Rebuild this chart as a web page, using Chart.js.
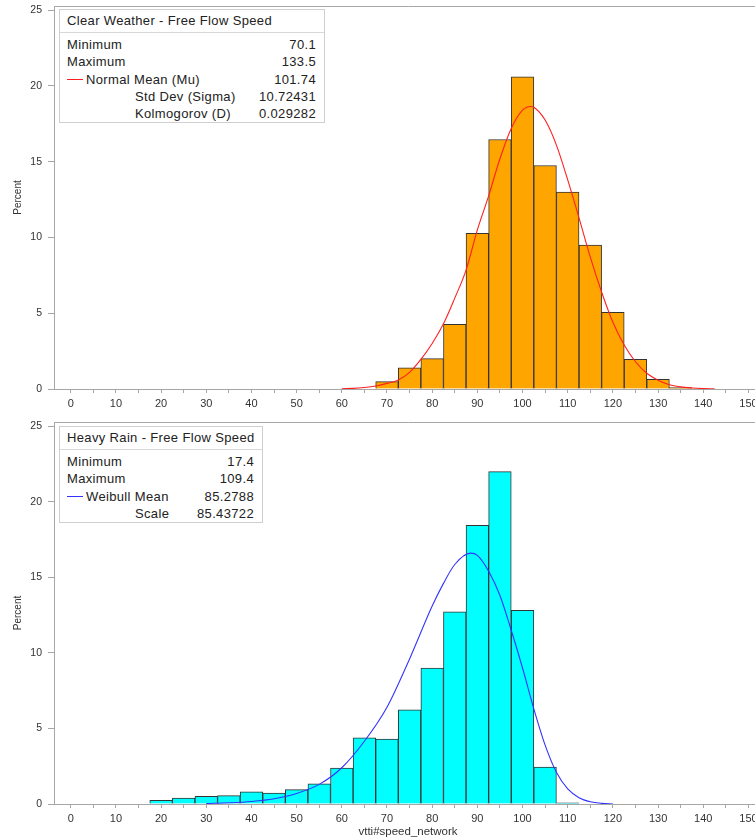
<!DOCTYPE html>
<html>
<head>
<meta charset="utf-8">
<script src="https://cdn.jsdelivr.net/npm/chart.js@4.4.0/dist/chart.umd.min.js"></script>
<style>
  body { margin: 0; background: #fff; overflow: hidden; }
  #wrap { position: relative; width: 755px; height: 839px; overflow: hidden; }
  canvas { position: absolute; left: 0; }
  #clearChart { top: 0; }
  #rainChart { top: 415px; }
  .stats {
    position: absolute; background: #fff; border: 1px solid #cfcfcf;
    font-family: "Liberation Sans", Arial, sans-serif; font-size: 13px;
    letter-spacing: 0.35px; color: #222;
  }
  .stats .hd { height: 22px; line-height: 22px; padding-left: 7px; border-bottom: 1px solid #d8d8d8; white-space: nowrap; }
  .stats .rows { padding-top: 3px; }
  .stats .row { position: relative; height: 17.3px; line-height: 17.3px; white-space: nowrap; }
  .row .lab { position: absolute; left: 7px; }
  .row .lab.after { left: 26px; }
  .row .lab.sub { left: 75px; }
  .row .val { position: absolute; right: 8px; }
  .row .sym { position: absolute; left: 7px; top: 8px; width: 16px; border-top: 1px solid; }
  #clearStats { left: 59px; top: 9px; width: 264px; }
  #rainStats { left: 59px; top: 426px; width: 202px; }
</style>
</head>
<body>
<div id="wrap">
  <canvas id="clearChart" width="775" height="415"></canvas>
  <canvas id="rainChart" width="775" height="424"></canvas>

  <div class="stats" id="clearStats">
    <div class="hd">Clear Weather - Free Flow Speed</div>
    <div class="rows">
      <div class="row"><span class="lab">Minimum</span><span class="val">70.1</span></div>
      <div class="row"><span class="lab">Maximum</span><span class="val">133.5</span></div>
      <div class="row"><span class="sym" style="border-color:#ff2020"></span><span class="lab after">Normal Mean (Mu)</span><span class="val">101.74</span></div>
      <div class="row"><span class="lab sub">Std Dev (Sigma)</span><span class="val">10.72431</span></div>
      <div class="row"><span class="lab sub">Kolmogorov (D)</span><span class="val">0.029282</span></div>
    </div>
  </div>

  <div class="stats" id="rainStats">
    <div class="hd">Heavy Rain - Free Flow Speed</div>
    <div class="rows">
      <div class="row"><span class="lab">Minimum</span><span class="val">17.4</span></div>
      <div class="row"><span class="lab">Maximum</span><span class="val">109.4</span></div>
      <div class="row"><span class="sym" style="border-color:#3333ff"></span><span class="lab after">Weibull Mean</span><span class="val">85.2788</span></div>
      <div class="row"><span class="lab sub">Scale</span><span class="val">85.43722</span></div>
    </div>
  </div>
</div>

<script>
// Clear weather histogram (bin centres, percent)
const clearBins = [70, 75, 80, 85, 90, 95, 100, 105, 110, 115, 120, 125, 130, 135];
const clearPct = [0.49, 1.4, 2.01, 4.27, 10.27, 16.47, 20.6, 14.75, 13.0, 9.5, 5.06, 1.96, 0.64, 0.09];

// Fitted normal curve
const clearCurveX = [60, 62.5, 65, 67.5, 70, 72.5, 75, 77.5, 80, 82.5, 85, 87.5, 90, 92.5, 95, 97.5, 100, 101.75, 102.5, 105, 107.5, 110, 112.5, 115, 117.5, 120, 122.5, 125, 127.5, 130, 132.5, 135, 137.5, 140, 142.5];
const clearCurveY = [0.02, 0.04, 0.1, 0.2, 0.37, 0.6, 1.1, 1.95, 3.0, 4.3, 6.0, 7.85, 10.5, 12.75, 15.2, 17.2, 18.4, 18.65, 18.6, 17.75, 16.1, 13.8, 11.3, 8.7, 6.4, 4.4, 2.9, 1.8, 1.04, 0.58, 0.28, 0.14, 0.07, 0.03, 0.01];

// Heavy rain histogram
const rainBins = [20, 25, 30, 35, 40, 45, 50, 55, 60, 65, 70, 75, 80, 85, 90, 95, 100, 105, 110];
const rainPct = [0.24, 0.4, 0.5, 0.55, 0.81, 0.73, 0.95, 1.34, 2.38, 4.38, 4.29, 6.23, 8.99, 12.72, 18.44, 22.0, 12.82, 2.44, 0.07];

// Fitted Weibull curve
const rainCurveX = [30, 35, 40, 45, 50, 55, 60, 65, 70, 75, 80, 82.5, 85, 88.5, 90, 92.5, 95, 97.5, 100, 102.5, 105, 107.5, 110, 112.5, 115, 117.5, 120];
const rainCurveY = [0.03, 0.08, 0.17, 0.35, 0.7, 1.3, 2.4, 4.15, 6.4, 9.6, 13.1, 14.6, 15.85, 16.6, 16.45, 15.4, 13.8, 11.5, 9.0, 6.3, 3.9, 2.1, 1.0, 0.42, 0.15, 0.04, 0.0];

const xTicks = { min: -3.7, max: 153, step: 5 };
const yTicks = { min: 0, max: 25.28, step: 5 };

const axisGray = '#a6a6a6';
const textGray = '#333';
const fontFamily = '"Liberation Sans", Arial, sans-serif';

function makeChart(id, bins, pct, curveX, curveY, barColor, lineColor, opts) {
  const bars = bins.map((x, i) => ({ x: x, y: pct[i] }));
  const curve = curveX.map((x, i) => ({ x: x, y: curveY[i] }));

  const xTitle = opts.xTitle
    ? { display: true, text: opts.xTitle, color: textGray, font: { size: 11.5, family: fontFamily }, padding: { top: 0, bottom: 0 } }
    : { display: false };

  return new Chart(document.getElementById(id), {
    type: 'bar',
    data: {
      datasets: [
        {
          type: 'line',
          data: curve,
          borderColor: lineColor,
          borderWidth: 1.1,
          pointRadius: 0,
          cubicInterpolationMode: 'monotone',
          order: 0
        },
        {
          type: 'bar',
          data: bars,
          backgroundColor: barColor,
          borderColor: '#333',
          borderWidth: 1,
          categoryPercentage: 1,
          barPercentage: 1,
          order: 1
        }
      ]
    },
    options: {
      responsive: false,
      animation: false,
      devicePixelRatio: 1,
      layout: { padding: { top: opts.padTop, right: 13, left: 0, bottom: 0 } },
      plugins: { legend: { display: false }, tooltip: { enabled: false } },
      scales: {
        x: {
          type: 'linear',
          min: xTicks.min,
          max: xTicks.max,
          offset: false,
          ticks: {
            stepSize: xTicks.step,
            includeBounds: false,
            autoSkip: false,
            maxRotation: 0,
            padding: 4,
            color: textGray,
            font: { size: 11, family: fontFamily },
            callback: v => (v % 10 === 0 ? v : '')
          },
          grid: { drawOnChartArea: false, tickLength: 4, color: axisGray, offset: false },
          border: { color: axisGray },
          title: xTitle,
          afterFit(s) { s.height = opts.xHeight; s.paddingLeft = 0; s.paddingRight = 0; }
        },
        x2: {
          type: 'linear',
          position: 'top',
          min: xTicks.min,
          max: xTicks.max,
          ticks: { display: false },
          grid: { drawOnChartArea: false, drawTicks: false },
          border: { color: axisGray },
          afterFit(s) { s.height = 0; s.paddingLeft = 0; s.paddingRight = 0; }
        },
        y: {
          min: yTicks.min,
          max: yTicks.max,
          ticks: {
            stepSize: yTicks.step,
            includeBounds: false,
            padding: 6,
            color: textGray,
            font: { size: 10.5, family: fontFamily }
          },
          grid: { drawOnChartArea: false, tickLength: 6, color: axisGray },
          border: { color: axisGray },
          title: {
            display: true, text: 'Percent', color: textGray,
            font: { size: 10, family: fontFamily }, padding: { top: 12, bottom: 0 }
          },
          afterFit(s) { s.width = 54; s.paddingTop = 0; s.paddingBottom = 0; }
        }
      }
    }
  });
}

makeChart('clearChart', clearBins, clearPct, clearCurveX, clearCurveY, '#ffa500', '#ff2020',
  { padTop: 6, xHeight: 26 });
makeChart('rainChart', rainBins, rainPct, rainCurveX, rainCurveY, '#00ffff', '#3333ff',
  { padTop: 7, xHeight: 35, xTitle: 'vtti#speed_network' });
</script>
</body>
</html>
